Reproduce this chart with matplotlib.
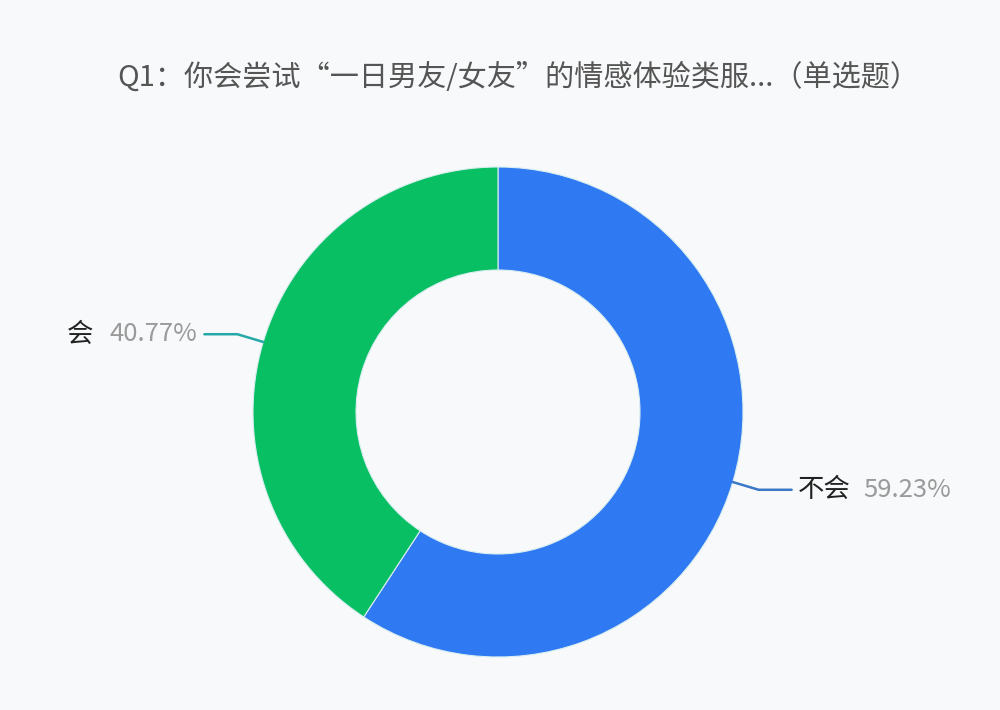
import matplotlib
matplotlib.use("Agg")
import matplotlib.pyplot as plt
import numpy as np

plt.rcParams['font.family'] = ['Noto Sans CJK SC', 'DejaVu Sans']

title = "Q1：你会尝试“一日男友/女友”的情感体验类服...（单选题）"
labels = ["不会", "会"]
values = [59.23, 40.77]
colors = ["#2f79f2", "#09bf63"]
line_colors = ["#3b78c8", "#25a8a8"]

fig = plt.figure(figsize=(10, 7.1), dpi=100)
fig.patch.set_facecolor("#f8f9fa")
ax = fig.add_axes([0, 0, 1, 1])
ax.set_facecolor("#f8f9fa")

cx, cy, R, W = 498, 412, 245, 103
# y axis is inverted (pixel-like coords), so data angle -90 is the visual top
# and counterclock=True in data space is clockwise visually
wedges, _ = ax.pie(values, colors=colors, startangle=-90, counterclock=True,
                   center=(cx, cy), radius=R,
                   wedgeprops=dict(width=W, edgecolor="#d8eef0", linewidth=0.8))
ax.set_xlim(0, 1000)
ax.set_ylim(710, 0)
ax.set_aspect("equal")
ax.axis("off")

fs_lab = 19
fs_pct = 18.5
for w, lab, val, lc in zip(wedges, labels, values, line_colors):
    ang = np.deg2rad((w.theta1 + w.theta2) / 2)
    x0, y0 = cx + R * np.cos(ang), cy + R * np.sin(ang)
    x1, y1 = cx + (R + 27) * np.cos(ang), cy + (R + 27) * np.sin(ang)
    side = 1 if np.cos(ang) > 0 else -1
    x2 = x1 + side * 33
    ax.plot([x0, x1, x2], [y0, y1, y1], color=lc, lw=1.8, solid_capstyle="round")
    pct = f"{val:.2f}%"
    if side > 0:
        t = ax.text(x2 + 6, y1, lab, ha="left", va="center", fontsize=fs_lab,
                    color="#222222", fontweight="light")
        fig.canvas.draw()
        bb = t.get_window_extent()
        ax.annotate(pct, xy=(bb.x1 + 13, (bb.y0 + bb.y1) / 2), xycoords="figure pixels",
                    ha="left", va="center", fontsize=fs_pct, color="#9a9a9a", fontweight="light")
    else:
        t = ax.text(x2 - 7, y1, pct, ha="right", va="center", fontsize=fs_pct,
                    color="#9a9a9a", fontweight="light")
        fig.canvas.draw()
        bb = t.get_window_extent()
        ax.annotate(lab, xy=(bb.x0 - 16, (bb.y0 + bb.y1) / 2), xycoords="figure pixels",
                    ha="right", va="center", fontsize=fs_lab, color="#222222", fontweight="light")

fig.text(0.518, 1 - 78 / 710, title, ha="center", va="center", fontsize=21,
         color="#555555", fontweight="light")

fig.savefig("out.png", dpi=100, facecolor=fig.get_facecolor())
